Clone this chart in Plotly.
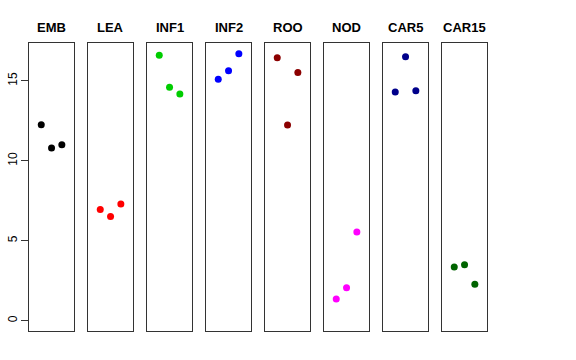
import plotly.graph_objects as go

panels = ["EMB", "LEA", "INF1", "INF2", "ROO", "NOD", "CAR5", "CAR15"]
colors = ["#000000", "#FF0000", "#00CD00", "#0000FF", "#8B0000", "#FF00FF", "#00008B", "#006400"]
positions = [1, 2, 3]
values = {
    "EMB": [12.25, 10.8, 11.0],
    "LEA": [6.96, 6.52, 7.29],
    "INF1": [16.59, 14.59, 14.17],
    "INF2": [15.09, 15.63, 16.69],
    "ROO": [16.44, 12.23, 15.52],
    "NOD": [1.36, 2.06, 5.54],
    "CAR5": [14.29, 16.5, 14.37],
    "CAR15": [3.36, 3.5, 2.28],
}
y_ticks = [0, 5, 10, 15]

W, H = 576, 360
fig = go.Figure()
left0, step, width = 29.3, 59.0, 44.5
top_px, bot_px = 43.3, 331.0
ydom = [(H - bot_px) / H, (H - top_px) / H]

for i, name in enumerate(panels):
    sfx = "" if i == 0 else str(i + 1)
    fig.add_trace(go.Scatter(
        x=positions, y=values[name], mode="markers",
        marker=dict(color=colors[i], size=7),
        xaxis="x" + sfx, yaxis="y" + sfx, showlegend=False, hoverinfo="y"))
    x0 = (left0 + i * step) / W
    x1 = (left0 + i * step + width) / W
    fig.layout["xaxis" + sfx] = dict(
        domain=[x0, x1], range=[-0.16, 4.16], showticklabels=False, ticks="",
        showgrid=False, zeroline=False, showline=True, mirror=True, automargin=False,
        linecolor="#333333", linewidth=1, anchor="y" + sfx)
    yax = dict(
        domain=ydom, range=[-0.64, 17.34], showgrid=False, zeroline=False,
        showline=True, mirror=True, linecolor="#333333", linewidth=1,
        automargin=False, anchor="x" + sfx)
    if i == 0:
        yax.update(tickvals=y_ticks, ticks="outside", ticklen=7, tickcolor="#333333",
                   tickangle=-90, tickfont=dict(family="Liberation Sans", size=12, color="#000"))
    else:
        yax.update(showticklabels=False, ticks="")
    fig.layout["yaxis" + sfx] = yax
    fig.add_annotation(
        x=(x0 + x1) / 2, y=(H - 28) / H, xref="paper", yref="paper",
        xanchor="center", yanchor="middle",
        text="<b>%s</b>" % name, showarrow=False,
        font=dict(family="Liberation Sans", size=13, color="#000"))

fig.update_layout(width=W, height=H, margin=dict(l=0, r=0, t=0, b=0),
                  paper_bgcolor="white", plot_bgcolor="white")
fig.write_html("out.html", config={"displayModeBar": False},
               post_script="document.body.style.margin='0';")
